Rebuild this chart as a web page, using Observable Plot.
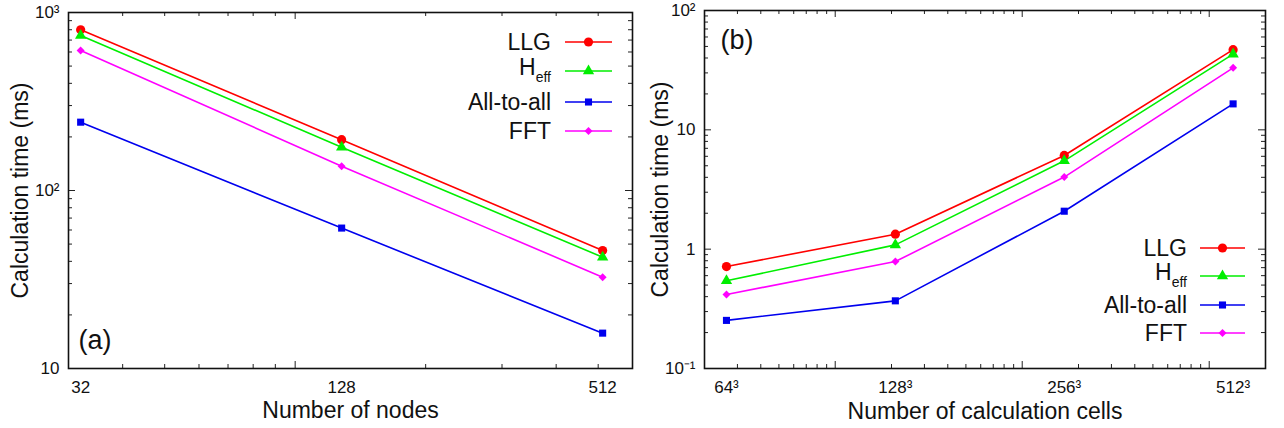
<!DOCTYPE html>
<html><head><meta charset="utf-8">
<script src="https://cdn.jsdelivr.net/npm/d3@7"></script>
<script src="https://cdn.jsdelivr.net/npm/@observablehq/plot@0.6"></script>
<style>
body{margin:0;background:#fff;font-family:"Liberation Sans",Arial,sans-serif;}
#wrap{display:flex;width:1284px;height:428px;overflow:hidden;}
#wrap svg{font-family:"Liberation Sans",Arial,sans-serif;}
</style></head><body><div id="wrap"></div>
<script>
// ---- data ----
const seriesNames = ["LLG", "Heff", "All-to-all", "FFT"];
const seriesColors = ["#ff0000", "#00ee00", "#0000ee", "#ff00ff"];
const seriesSymbols = ["circle", "triangle", "square", "diamond2"];
const seriesRadius = [4.6, 4.2, 4, 3.6];

// panel (a): number of nodes
const nodes = [32, 128, 512];
const llgNodes = [800, 193, 46];
const heffNodes = [743, 175, 42.2];
const allNodes = [242, 61.5, 15.8];
const fftNodes = [612, 137, 32.6];

// panel (b): number of calculation cells (N^3)
const cellN = [64, 128, 256, 512];
const llgCells = [0.715, 1.335, 6.1, 47];
const heffCells = [0.543, 1.086, 5.5, 43.1];
const allCells = [0.253, 0.369, 2.08, 16.5];
const fftCells = [0.417, 0.787, 4.02, 33.1];

// tick labels
const nodeTickLabels = ["32", "128", "512"];
const cellTickLabels = ["64³", "128³", "256³", "512³"];
const yTicksA = [10, 100, 1000];
const yTickLabelsA = ["10", "10²", "10³"];
const yTicksB = [0.1, 1, 10, 100];
const yTickLabelsB = ["10⁻¹", "1", "10", "10²"];

// ---- helpers ----
function logTicks(lo, hi) {
  const major = [], minor = [];
  for (let e = Math.floor(Math.log10(lo)); e <= Math.ceil(Math.log10(hi)); e++) {
    for (let m = 1; m <= 9; m++) {
      const v = m * Math.pow(10, e);
      if (v <= lo * 1.0001 || v >= hi * 0.9999) continue;
      (m === 1 ? major : minor).push(v);
    }
  }
  return {major, minor};
}

function rowsFrom(xs, valueArrays) {
  const rows = [];
  valueArrays.forEach((vals, i) => xs.forEach((x, j) => rows.push({series: seriesNames[i], x, y: vals[j]})));
  return rows;
}

function panel(o) {
  const pw = o.width - o.ml - o.mr, ph = o.height - o.mt - o.mb;
  const xt = logTicks(o.xDomain[0], o.xDomain[1]);
  const yt = logTicks(o.yDomain[0], o.yDomain[1]);
  const minorLen = 4, majorLen = 7;
  const marks = [];
  // inward ticks on all four sides
  for (const [arr, len] of [[xt.minor, minorLen], [xt.major, majorLen]]) {
    marks.push(Plot.tickX(arr, {x: d => d, insetTop: ph - len, stroke: "#222", strokeWidth: 1}));
    marks.push(Plot.tickX(arr, {x: d => d, insetBottom: ph - len, stroke: "#222", strokeWidth: 1}));
  }
  for (const [arr, len] of [[yt.minor, minorLen], [yt.major, majorLen]]) {
    marks.push(Plot.tickY(arr, {y: d => d, insetRight: pw - len, stroke: "#222", strokeWidth: 1}));
    marks.push(Plot.tickY(arr, {y: d => d, insetLeft: pw - len, stroke: "#222", strokeWidth: 1}));
  }
  marks.push(Plot.line(o.rows, {x: "x", y: "y", z: "series", stroke: "series", strokeWidth: 1.6}));
  seriesNames.forEach((s, i) => {
    marks.push(Plot.dot(o.rows.filter(d => d.series === s), {x: "x", y: "y", fill: "series", symbol: "series", r: seriesRadius[i], stroke: null}));
  });
  marks.push(Plot.frame({stroke: "#111", strokeWidth: 1.6}));
  // tick labels
  marks.push(Plot.text(o.xLabelTicks, {x: d => d, frameAnchor: "bottom", dy: 19, lineAnchor: "middle", text: (d, i) => o.xLabels[i], fontSize: 17, fill: "#111"}));
  marks.push(Plot.text(o.yTicks, {y: d => d, frameAnchor: "left", dx: -9, textAnchor: "end", lineAnchor: "middle", text: (d, i) => o.yLabels[i], fontSize: 17, fill: "#111"}));
  // titles
  marks.push(Plot.text([o.xTitle], {frameAnchor: "bottom", dy: o.xTitleDy, lineAnchor: "middle", textAnchor: "middle", fontSize: 23, fill: "#111"}));
  marks.push(Plot.text([o.yTitle], {frameAnchor: "left", dx: o.yTitleDx, rotate: -90, textAnchor: "middle", lineAnchor: "middle", fontSize: 23, fill: "#111"}));
  marks.push(Plot.text([o.tag], {frameAnchor: o.tagAnchor, dx: o.tagDx, dy: o.tagDy, fontSize: 27, textAnchor: "start", lineAnchor: "middle", fill: "#111"}));

  const svg = Plot.plot({
    width: o.width, height: o.height,
    marginLeft: o.ml, marginRight: o.mr, marginTop: o.mt, marginBottom: o.mb,
    style: {fontFamily: "'Liberation Sans', Arial, sans-serif", background: "#fff", overflow: "visible"},
    x: {type: "log", domain: o.xDomain, axis: null},
    y: {type: "log", domain: o.yDomain, axis: null},
    color: {domain: seriesNames, range: seriesColors},
    symbol: {domain: seriesNames, range: seriesSymbols},
    marks
  });

  // legend (layout decoration)
  const g = d3.select(svg).append("g").attr("font-size", 23).attr("fill", "#111");
  seriesNames.forEach((s, i) => {
    const y = o.legY[i];
    const t = g.append("text").attr("x", o.legTextX).attr("y", y).attr("text-anchor", "end").attr("dominant-baseline", "central");
    if (s === "Heff") {
      t.attr("y", y - 4);
      t.append("tspan").text("H");
      t.append("tspan").text("eff").attr("font-size", 14).attr("dy", 10);
    } else t.text(s);
    g.append("line").attr("x1", o.legX1).attr("x2", o.legX2).attr("y1", y).attr("y2", y)
      .attr("stroke", seriesColors[i]).attr("stroke-width", 1.6);
    const sym = d3.symbol().type({circle: d3.symbolCircle, triangle: d3.symbolTriangle, square: d3.symbolSquare, diamond2: d3.symbolDiamond2}[seriesSymbols[i]])
      .size(Math.PI * seriesRadius[i] * seriesRadius[i]);
    g.append("path").attr("d", sym()).attr("transform", `translate(${(o.legX1 + o.legX2) / 2},${y})`).attr("fill", seriesColors[i]);
  });
  return svg;
}

const wrap = document.getElementById("wrap");
wrap.append(panel({
  width: 642, height: 428, ml: 68, mr: 10, mt: 12, mb: 60,
  xDomain: [30, 600], yDomain: [10, 1000],
  rows: rowsFrom(nodes, [llgNodes, heffNodes, allNodes, fftNodes]),
  xLabelTicks: nodes, xLabels: nodeTickLabels,
  yTicks: yTicksA, yLabels: yTickLabelsA,
  xTitle: "Number of nodes", xTitleDy: 42,
  yTitle: "Calculation time (ms)", yTitleDx: -48,
  tag: "(a)", tagAnchor: "bottom-left", tagDx: 10, tagDy: -28,
  legTextX: 551, legX1: 565, legX2: 612, legY: [42, 71, 102, 131]
}));
wrap.append(panel({
  width: 642, height: 428, ml: 62, mr: 19, mt: 10, mb: 60,
  xDomain: [2e5, 2e8], yDomain: [0.1, 100],
  rows: rowsFrom(cellN.map(n => n ** 3), [llgCells, heffCells, allCells, fftCells]),
  xLabelTicks: cellN.map(n => n ** 3), xLabels: cellTickLabels,
  yTicks: yTicksB, yLabels: yTickLabelsB,
  xTitle: "Number of calculation cells", xTitleDy: 43,
  yTitle: "Calculation time (ms)", yTitleDx: -44,
  tag: "(b)", tagAnchor: "top-left", tagDx: 16, tagDy: 30,
  legTextX: 545, legX1: 558, legX2: 603, legY: [248, 276, 305, 333]
}));
</script></body></html>
